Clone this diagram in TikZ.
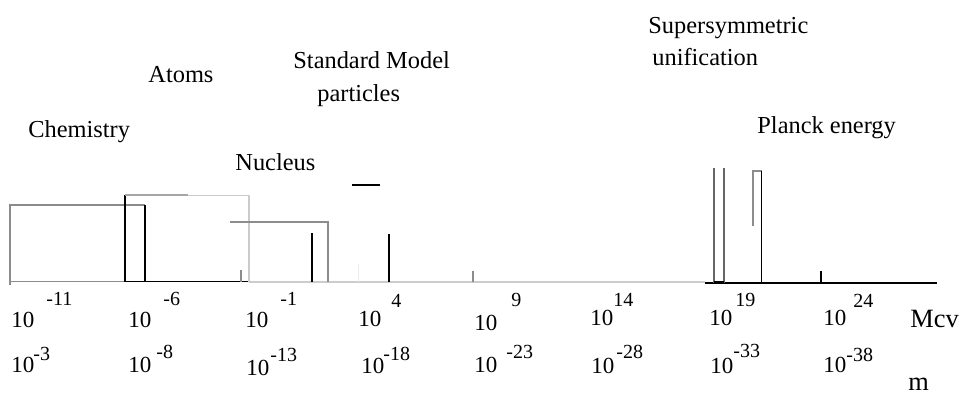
\documentclass[tikz,border=0pt]{standalone}
\usepackage{fontspec}
\setmainfont{Liberation Serif}
\begin{document}
\begin{tikzpicture}[x=0.5pt,y=-0.5pt,
  lbl/.style={anchor=base west,inner sep=0pt,font=\fontsize{12.2}{14}\selectfont},
  num/.style={anchor=base west,inner sep=0pt,font=\fontsize{11.5}{13}\selectfont},
  sup/.style={anchor=base west,inner sep=0pt,font=\fontsize{10}{12}\selectfont},
  unit/.style={anchor=base west,inner sep=0pt,font=\fontsize{13.2}{15}\selectfont},
  dk/.style={draw=black,line width=0.75pt},
  lt/.style={draw=black!45,line width=0.7pt},
  vlt/.style={draw=black!20,line width=0.6pt}]
\useasboundingbox (0,0) rectangle (965,393);
% --- labels
\node[lbl] (chem) at (28,137) {Chemistry};
\node[lbl] (atoms) at (148,82) {Atoms};
\node[lbl] (sm1) at (293,68) {Standard Model};
\node[lbl] (sm2) at (317,101) {particles};
\node[lbl] (nuc) at (235,170) {Nucleus};
\node[lbl] (susy1) at (648,33) {Supersymmetric};
\node[lbl] (susy2) at (652,65) {unification};
\node[lbl] (planck) at (757,133) {Planck energy};
% --- baseline
\draw[dk] (125,281.5) -- (249,281.5);
\draw[lt] (10,281.5) -- (125,281.5);
\draw[vlt] (249,282) -- (705,282);
\draw[dk] (705,283) -- (937,283);
% --- chemistry box
\draw[lt] (10,285) -- (10,205) -- (145,205);
\draw[dk] (145,205) -- (145,281.5);
% --- atoms box
\draw[dk] (125,281.5) -- (125,195);
\draw[draw=black!35,line width=0.7pt] (125,195) -- (188,195);
\draw[vlt] (188,195.5) -- (249,195.5) -- (249,282);
% --- nucleus
\draw[lt] (230,222) -- (328,222) -- (328,282);
\draw[dk] (312,233) -- (312,282);
% --- standard model
\draw[dk] (352,185) -- (380,185);
\draw[dk] (389,234) -- (389,282);
% --- ticks
\draw[lt] (241,270) -- (241,281.5);
\draw[draw=black!8,line width=0.5pt] (358,264) -- (358,282);
\draw[lt] (473,271) -- (473,282);
\draw[dk] (821,271) -- (821,283);
% --- supersymmetric
\draw[draw=black!60,line width=0.7pt] (714,168) -- (714,283);
\draw[draw=black!60,line width=0.7pt] (724,168) -- (724,283);
\draw[draw=black,line width=1.2pt] (714,282.5) -- (724,282.5);
% --- planck
\draw[lt] (753,226) -- (753,171) -- (761.5,171);
\draw[dk] (761.5,171) -- (761.5,283);
% --- energy axis labels
\node[num] (e1) at (11,327) {10};  \node[sup] (e1s) at (46,305) {-11};
\node[num] (e2) at (128,327) {10}; \node[sup] (e2s) at (163,305) {-6};
\node[num] (e3) at (245,327) {10}; \node[sup] (e3s) at (280,305) {-1};
\node[num] (e4) at (358,326) {10}; \node[sup] (e4s) at (391,307) {4};
\node[num] (e5) at (474,330) {10}; \node[sup] (e5s) at (511,306) {9};
\node[num] (e6) at (590,325) {10}; \node[sup] (e6s) at (613,306) {14};
\node[num] (e7) at (709,325) {10}; \node[sup] (e7s) at (735,306) {19};
\node[num] (e8) at (823,325) {10}; \node[sup] (e8s) at (853,307) {24};
\node[unit] (mev) at (910,327) {Mcv};
% --- length axis labels
\node[num] (l1) at (11,372) {10};  \node[sup] (l1s) at (33,360) {-3};
\node[num] (l2) at (128,372) {10}; \node[sup] (l2s) at (156,358) {-8};
\node[num] (l3) at (246,375) {10}; \node[sup] (l3s) at (270,361) {-13};
\node[num] (l4) at (361,373) {10}; \node[sup] (l4s) at (383,360) {-18};
\node[num] (l5) at (474,372) {10}; \node[sup] (l5s) at (506,358) {-23};
\node[num] (l6) at (591,373) {10}; \node[sup] (l6s) at (616,358) {-28};
\node[num] (l7) at (710,373) {10}; \node[sup] (l7s) at (733,357) {-33};
\node[num] (l8) at (823,372) {10}; \node[sup] (l8s) at (846,361) {-38};
\node[unit] (m) at (908,390) {m};
\end{tikzpicture}
\end{document}
